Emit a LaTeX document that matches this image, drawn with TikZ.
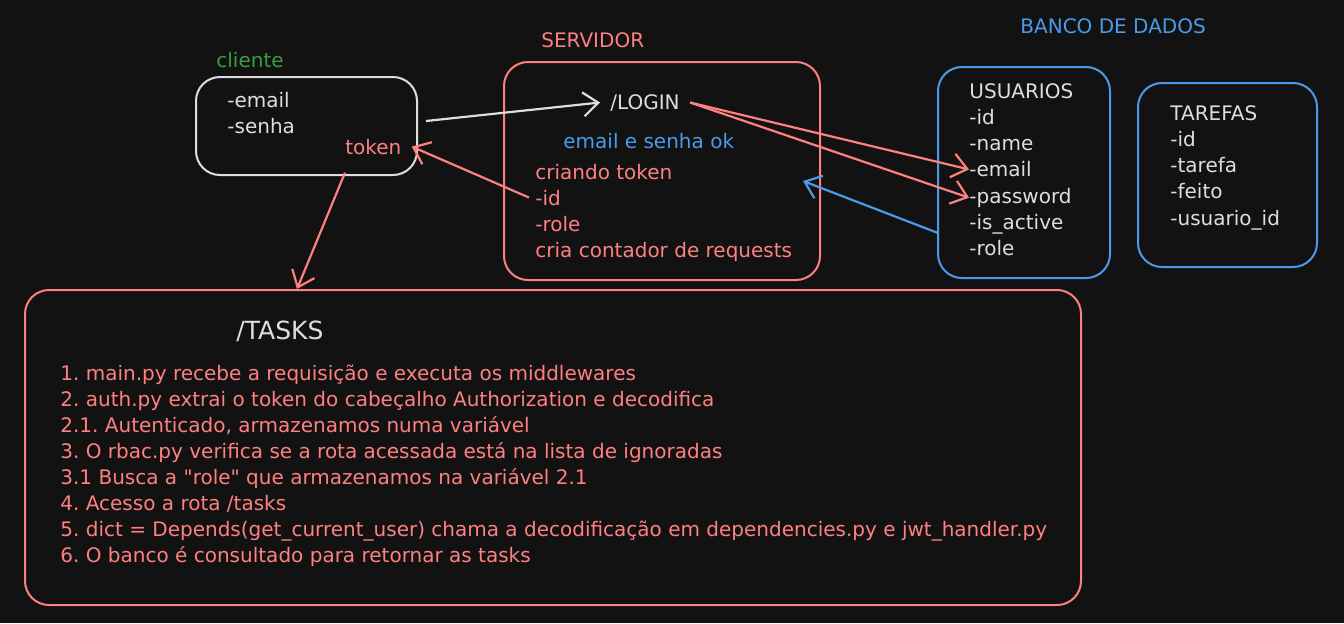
\documentclass[tikz,border=0pt]{standalone}
\usepackage{fontspec}
\setmainfont{DejaVu Sans}[Ligatures=TeXOff]
\usepackage{xcolor}
\usepackage{tikz}
\usetikzlibrary{arrows.meta}
\definecolor{bg}{HTML}{121212}
\definecolor{ink}{HTML}{DEDEDE}
\definecolor{rose}{HTML}{FF8080}
\definecolor{sky}{HTML}{4A9BEA}
\definecolor{leaf}{HTML}{3A9D3F}
\frenchspacing
\tikzset{
  box/.style={line width=1pt, rounded corners=12pt},
  lab/.style={font=\fontsize{10}{13}\selectfont, inner sep=0pt, anchor=base west},
  big/.style={font=\fontsize{12.5}{15}\selectfont, inner sep=0pt, anchor=base west},
  arr/.style={line width=1.1pt, -{Straight Barb[length=7.5pt,width=12pt]}},
}

\begin{document}
\begin{tikzpicture}[x=0.5pt,y=-0.5pt]
  \fill[bg] (0,0) rectangle (1344,623);
  \useasboundingbox (0,0) rectangle (1344,623);

  % boxes
  \draw[box, draw=ink]  (196,77)  rectangle (417,175);   % cliente
  \draw[box, draw=rose] (504,62)  rectangle (820,280);   % servidor
  \draw[box, draw=sky]  (938,67)  rectangle (1110,278);  % usuarios
  \draw[box, draw=sky]  (1138,83) rectangle (1317,267);  % tarefas
  \draw[box, draw=rose] (25,290)  rectangle (1081,605);  % tasks

  % titles
  \node[lab, text=leaf] (cliente) at (216,67) {cliente};
  \node[lab, text=rose] (servidor) at (541,47) {SERVIDOR};
  \node[lab, text=sky] (banco) at (1020,33) {BANCO DE DADOS};

  % cliente
  \node[lab, text=ink] (email) at (227,107) {-email};
  \node[lab, text=ink] (senha) at (227,133) {-senha};
  \node[lab, text=rose] (token) at (345,154) {token};

  % servidor
  \node[lab, text=ink] (login) at (610,109) {/LOGIN};
  \node[lab, text=sky] (ok) at (563,148) {email e senha ok};
  \foreach \t [count=\i] in {criando token, -id, -role, cria contador de requests}
    \node[lab, text=rose] (srv\i) at (535,179+26*\i-26) {\t};

  % usuarios
  \foreach \t/\n [count=\i] in {USUARIOS/uhead, -id/uid, -name/uname, -email/uemail,
      -password/upass, -is\_active/uactive, -role/urole}
    \node[lab, text=ink] (\n) at (969,98+26.3*\i-26.3) {\t};

  % tarefas
  \foreach \t [count=\i] in {TAREFAS, -id, -tarefa, -feito, -usuario\_id}
    \node[lab, text=ink] (tar\i) at (1170,120+26.25*\i-26.25) {\t};

  % tasks
  \node[big, text=ink] (tasks) at (236,339) {/TASKS};
  \foreach \t [count=\i] in {
      1. main.py recebe a requisição e executa os middlewares,
      2. auth.py extrai o token do cabeçalho Authorization e decodifica,
      {2.1. Autenticado, armazenamos numa variável},
      3. O rbac.py verifica se a rota acessada está na lista de ignoradas,
      3.1 Busca a "role" que armazenamos na variável 2.1,
      4. Acesso a rota /tasks,
      5. dict = Depends(get\_current\_user) chama a decodificação em dependencies.py e jwt\_handler.py,
      6. O banco é consultado para retornar as tasks}
    \node[lab, text=rose] (step\i) at (60,380+26*\i-26) {\t};

  % connector ends
  \coordinate (cliout) at (426,121);   % cliente box right
  \coordinate (tasksin) at (297,289);  % tasks box top
  \coordinate (usrout) at (938,233);   % usuarios box left
  \coordinate (srvin) at (803,181);    % inside servidor

  \draw[arr, draw=ink] (cliout) -- ([xshift=-5pt]login.west);
  \draw[arr, draw=rose] ([xshift=-3pt]srv2.west) -- ([xshift=5pt]token.east);
  \draw[arr, draw=rose] ([yshift=-9pt]token.south west) -- (tasksin);
  \draw[arr, draw=rose] ([xshift=5pt]login.east) -- (uemail.west);
  \draw[arr, draw=rose] ([xshift=5pt]login.east) -- (upass.west);
  \draw[arr, draw=sky] (usrout) -- (srvin);
\end{tikzpicture}
\end{document}
